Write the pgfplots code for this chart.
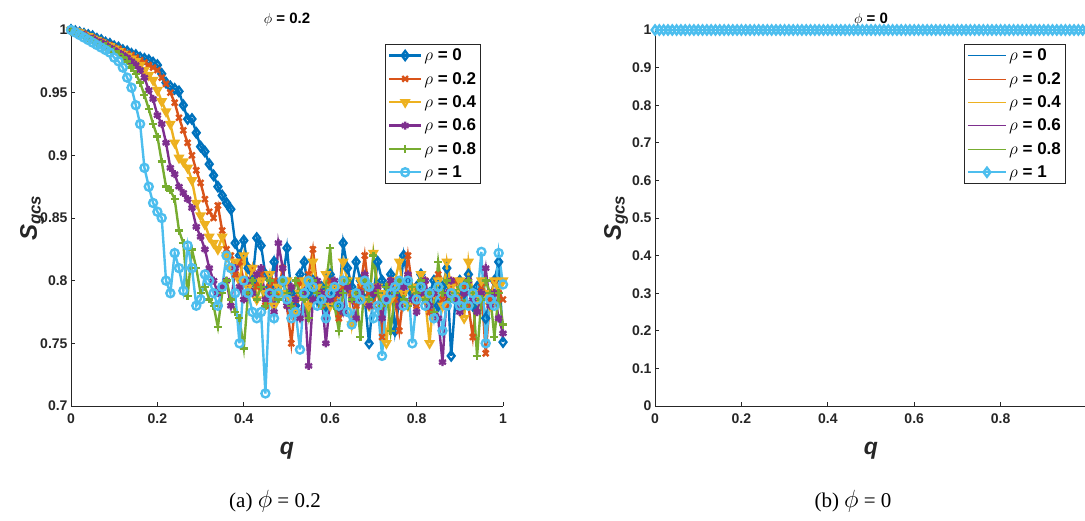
\documentclass[border=0pt]{standalone}
\usepackage{pgfplots}
\pgfplotsset{compat=1.18}
\usepackage{pgfplotstable}
\usepackage{fontspec}
\setmainfont{Liberation Sans}
\newfontfamily\capfont{Liberation Serif}

\definecolor{mblue}{RGB}{0,114,189}
\definecolor{morange}{RGB}{217,83,25}
\definecolor{myellow}{RGB}{237,177,32}
\definecolor{mpurple}{RGB}{126,47,142}
\definecolor{mgreen}{RGB}{119,172,48}
\definecolor{mcyan}{RGB}{77,190,238}
\definecolor{axgray}{RGB}{38,38,38}

% S_gcs against q, phi = 0.2
\pgfplotstableread{
q    r0    r2    r4    r6    r8    r10
0.00 1.000 1.000 1.000 1.000 1.000 1.000
0.01 .999 .999 .999 .999 .998 .998
0.02 .998 .998 .998 .997 .997 .996
0.03 .997 .997 .996 .996 .995 .994
0.04 .996 .995 .995 .994 .994 .992
0.05 .995 .994 .993 .993 .992 .990
0.06 .993 .992 .992 .991 .990 .988
0.07 .992 .991 .990 .990 .989 .986
0.08 .990 .989 .988 .988 .987 .984
0.09 .989 .988 .987 .986 .985 .982
0.10 .987 .986 .985 .984 .983 .978
0.11 .986 .985 .983 .982 .981 .975
0.12 .984 .983 .981 .980 .978 .970
0.13 .983 .981 .979 .978 .975 .962
0.14 .981 .980 .977 .975 .970 .954
0.15 .980 .978 .975 .972 .965 .940
0.16 .978 .976 .972 .968 .958 .925
0.17 .977 .974 .968 .962 .948 .890
0.18 .976 .972 .964 .952 .937 .875
0.19 .974 .970 .960 .945 .925 .862
0.20 .972 .968 .952 .932 .915 .855
0.21 .965 .962 .943 .925 .895 .850
0.22 .958 .957 .935 .910 .875 .800
0.23 .955 .950 .925 .890 .872 .790
0.24 .953 .942 .910 .885 .865 .822
0.25 .951 .930 .898 .875 .840 .810
0.26 .940 .920 .895 .870 .830 .792
0.27 .929 .910 .890 .865 .788 .828
0.28 .929 .900 .880 .858 .825 .810
0.29 .918 .888 .862 .843 .810 .780
0.30 .907 .878 .852 .835 .790 .785
0.31 .903 .865 .845 .825 .795 .805
0.32 .893 .855 .835 .810 .785 .800
0.33 .884 .850 .830 .800 .780 .790
0.34 .875 .860 .825 .790 .763 .780
0.35 .868 .840 .835 .795 .790 .795
0.36 .862 .825 .820 .800 .800 .820
0.37 .857 .820 .810 .780 .785 .810
0.38 .830 .805 .815 .810 .775 .790
0.39 .820 .815 .800 .795 .770 .750
0.40 .832 .800 .820 .785 .746 .800
0.41 .810 .790 .795 .800 .790 .790
0.42 .800 .810 .810 .790 .800 .775
0.43 .834 .795 .785 .805 .785 .770
0.44 .828 .805 .800 .810 .795 .775
0.45 .805 .780 .790 .785 .780 .710
0.46 .795 .795 .805 .790 .800 .790
0.47 .815 .800 .780 .775 .790 .770
0.48 .790 .790 .795 .830 .785 .790
0.49 .800 .810 .790 .810 .800 .800
0.50 .826 .780 .800 .780 .790 .785
0.51 .790 .750 .785 .795 .780 .770
0.52 .780 .785 .775 .785 .800 .775
0.53 .805 .800 .790 .770 .790 .745
0.54 .815 .790 .800 .790 .785 .790
0.55 .790 .805 .780 .732 .770 .800
0.56 .800 .825 .815 .785 .800 .795
0.57 .785 .795 .795 .800 .790 .780
0.58 .795 .780 .790 .790 .780 .785
0.59 .780 .790 .805 .750 .795 .770
0.60 .805 .800 .780 .785 .826 .790
0.61 .790 .785 .795 .800 .780 .795
0.62 .780 .770 .790 .790 .760 .780
0.63 .830 .795 .815 .775 .790 .800
0.64 .810 .800 .800 .795 .800 .775
0.65 .795 .790 .765 .785 .785 .765
0.66 .815 .780 .790 .770 .790 .790
0.67 .800 .795 .800 .790 .755 .785
0.68 .785 .820 .785 .805 .800 .800
0.69 .750 .790 .780 .780 .785 .795
0.70 .790 .780 .822 .790 .820 .770
0.71 .815 .795 .795 .795 .790 .780
0.72 .800 .755 .790 .770 .780 .740
0.73 .790 .790 .750 .785 .795 .785
0.74 .805 .800 .785 .800 .760 .790
0.75 .760 .785 .800 .790 .790 .795
0.76 .785 .760 .815 .780 .800 .800
0.77 .820 .790 .790 .795 .785 .780
0.78 .800 .820 .780 .805 .780 .800
0.79 .790 .795 .795 .785 .795 .750
0.80 .795 .780 .790 .775 .790 .785
0.81 .805 .790 .805 .790 .800 .795
0.82 .785 .800 .785 .800 .785 .780
0.83 .790 .775 .750 .780 .790 .790
0.84 .800 .790 .790 .790 .775 .770
0.85 .780 .805 .800 .770 .815 .795
0.86 .795 .785 .780 .735 .790 .760
0.87 .810 .780 .815 .790 .800 .780
0.88 .740 .795 .795 .800 .785 .790
0.89 .785 .800 .790 .785 .790 .785
0.90 .800 .785 .800 .775 .795 .780
0.91 .790 .795 .770 .790 .780 .795
0.92 .805 .780 .815 .800 .800 .780
0.93 .780 .755 .790 .785 .790 .790
0.94 .795 .790 .785 .775 .740 .785
0.95 .790 .795 .800 .790 .785 .823
0.96 .770 .742 .790 .810 .800 .750
0.97 .785 .785 .780 .780 .790 .785
0.98 .800 .800 .800 .790 .755 .780
0.99 .815 .790 .795 .770 .790 .822
1.00 .751 .785 .800 .758 .765 .797
}\datA

% phi = 0: every series stays at 1
\pgfplotstableread{
q    s
0.00 1
0.01 1
0.02 1
0.03 1
0.04 1
0.05 1
0.06 1
0.07 1
0.08 1
0.09 1
0.10 1
0.11 1
0.12 1
0.13 1
0.14 1
0.15 1
0.16 1
0.17 1
0.18 1
0.19 1
0.20 1
0.21 1
0.22 1
0.23 1
0.24 1
0.25 1
0.26 1
0.27 1
0.28 1
0.29 1
0.30 1
0.31 1
0.32 1
0.33 1
0.34 1
0.35 1
0.36 1
0.37 1
0.38 1
0.39 1
0.40 1
0.41 1
0.42 1
0.43 1
0.44 1
0.45 1
0.46 1
0.47 1
0.48 1
0.49 1
0.50 1
0.51 1
0.52 1
0.53 1
0.54 1
0.55 1
0.56 1
0.57 1
0.58 1
0.59 1
0.60 1
0.61 1
0.62 1
0.63 1
0.64 1
0.65 1
0.66 1
0.67 1
0.68 1
0.69 1
0.70 1
0.71 1
0.72 1
0.73 1
0.74 1
0.75 1
0.76 1
0.77 1
0.78 1
0.79 1
0.80 1
0.81 1
0.82 1
0.83 1
0.84 1
0.85 1
0.86 1
0.87 1
0.88 1
0.89 1
0.90 1
0.91 1
0.92 1
0.93 1
0.94 1
0.95 1
0.96 1
0.97 1
0.98 1
0.99 1
1.00 1
}\datB

\pgfplotsset{
  mstyle/.style={
    scale only axis, width=432pt, height=376pt,
    clip=false,
    axis x line*=bottom, axis y line*=left,
    axis line style={draw=axgray, line width=0.8pt, -},
    tick align=inside, major tick length=4pt,
    tick style={draw=axgray, line width=0.8pt},
    ticklabel style={font=\fontsize{14}{16}\selectfont\bfseries, text=axgray},
    xticklabel style={yshift=-4pt},
    /pgf/number format/assume math mode=true,
    xmin=0, xmax=1,
    title style={font=\fontsize{15}{17}\selectfont\bfseries, text=black,
      at={(axis description cs:0.5,1)}, anchor=center, yshift=4pt},
    xlabel style={font=\fontsize{23}{25}\selectfont\bfseries\itshape, text=axgray,
      at={(axis description cs:0.5,-0.12)}, anchor=center},
    ylabel style={font=\fontsize{24}{26}\selectfont\bfseries\itshape, text=axgray,
      at={(axis description cs:-0.09,0.5)}, anchor=center},
    xlabel={q},
    ylabel={S\textsubscript{gcs}},
    legend cell align=left,
    legend style={font=\fontsize{17}{19}\selectfont\bfseries, draw=axgray,
      line width=0.8pt, anchor=north west, row sep=6pt, inner sep=2.5pt},
    legend image code/.code={%
      \draw[mark repeat=2,mark phase=2,##1] plot coordinates {(0pt,0pt) (16pt,0pt) (32pt,0pt)};},
  }
}

\begin{document}
\begin{tikzpicture}
\begin{axis}[mstyle,
    at={(71pt,114pt)}, anchor=south west,
    ymin=0.7, ymax=1,
    xtick={0,0.2,0.4,0.6,0.8,1},
    ytick={0.7,0.75,0.8,0.85,0.9,0.95,1},
    title={$\phi$ = 0.2},
    legend style={at={(axis description cs:0.727,0.963)}},
]
\addplot[mblue, line width=2.4pt, mark=diamond, mark size=4.5pt] table[x=q, y=r0] {\datA};
\addplot[morange, line width=2.4pt, mark=x, mark size=4pt] table[x=q, y=r2] {\datA};
\addplot[myellow, line width=2.4pt, mark=triangle, mark size=4pt, mark options={rotate=180}] table[x=q, y=r4] {\datA};
\addplot[mpurple, line width=2.4pt, mark=asterisk, mark size=4pt] table[x=q, y=r6] {\datA};
\addplot[mgreen, line width=2.4pt, mark=+, mark size=4pt] table[x=q, y=r8] {\datA};
\addplot[mcyan, line width=2.4pt, mark=o, mark size=4pt] table[x=q, y=r10] {\datA};
\legend{$\rho$ = 0, $\rho$ = 0.2, $\rho$ = 0.4, $\rho$ = 0.6, $\rho$ = 0.8, $\rho$ = 1}
\end{axis}

\begin{axis}[mstyle,
    at={(655pt,114pt)}, anchor=south west,
    ymin=0, ymax=1,
    xtick={0,0.2,0.4,0.6,0.8},
    ytick={0,0.1,0.2,0.3,0.4,0.5,0.6,0.7,0.8,0.9,1},
    title={$\phi$ = 0},
    legend style={at={(axis description cs:0.715,0.963)}},
    legend image code/.code={%
      \draw[mark repeat=2,mark phase=2,#1] plot coordinates {(4pt,0pt) (23pt,0pt) (42pt,0pt)};},
]
\addplot[mblue, line width=0.5pt] table[x=q, y=s] {\datB};
\addplot[morange, line width=0.5pt] table[x=q, y=s] {\datB};
\addplot[myellow, line width=0.5pt] table[x=q, y=s] {\datB};
\addplot[mpurple, line width=0.5pt] table[x=q, y=s] {\datB};
\addplot[mgreen, line width=0.5pt] table[x=q, y=s] {\datB};
\addplot[mcyan, line width=2.4pt, mark=diamond, mark size=4.5pt] table[x=q, y=s] {\datB};
\legend{$\rho$ = 0, $\rho$ = 0.2, $\rho$ = 0.4, $\rho$ = 0.6, $\rho$ = 0.8, $\rho$ = 1}
\end{axis}

\node[font=\capfont\fontsize{21}{24}\selectfont, anchor=base] at (275pt,13pt)
  {(a) {\fontsize{29}{29}\selectfont$\phi$} = 0.2};
\node[font=\capfont\fontsize{21}{24}\selectfont, anchor=base] at (853pt,13pt)
  {(b) {\fontsize{29}{29}\selectfont$\phi$} = 0};

\pgfresetboundingbox
\path[use as bounding box] (0pt,0pt) rectangle (1085pt,520pt);
\end{tikzpicture}
\end{document}
